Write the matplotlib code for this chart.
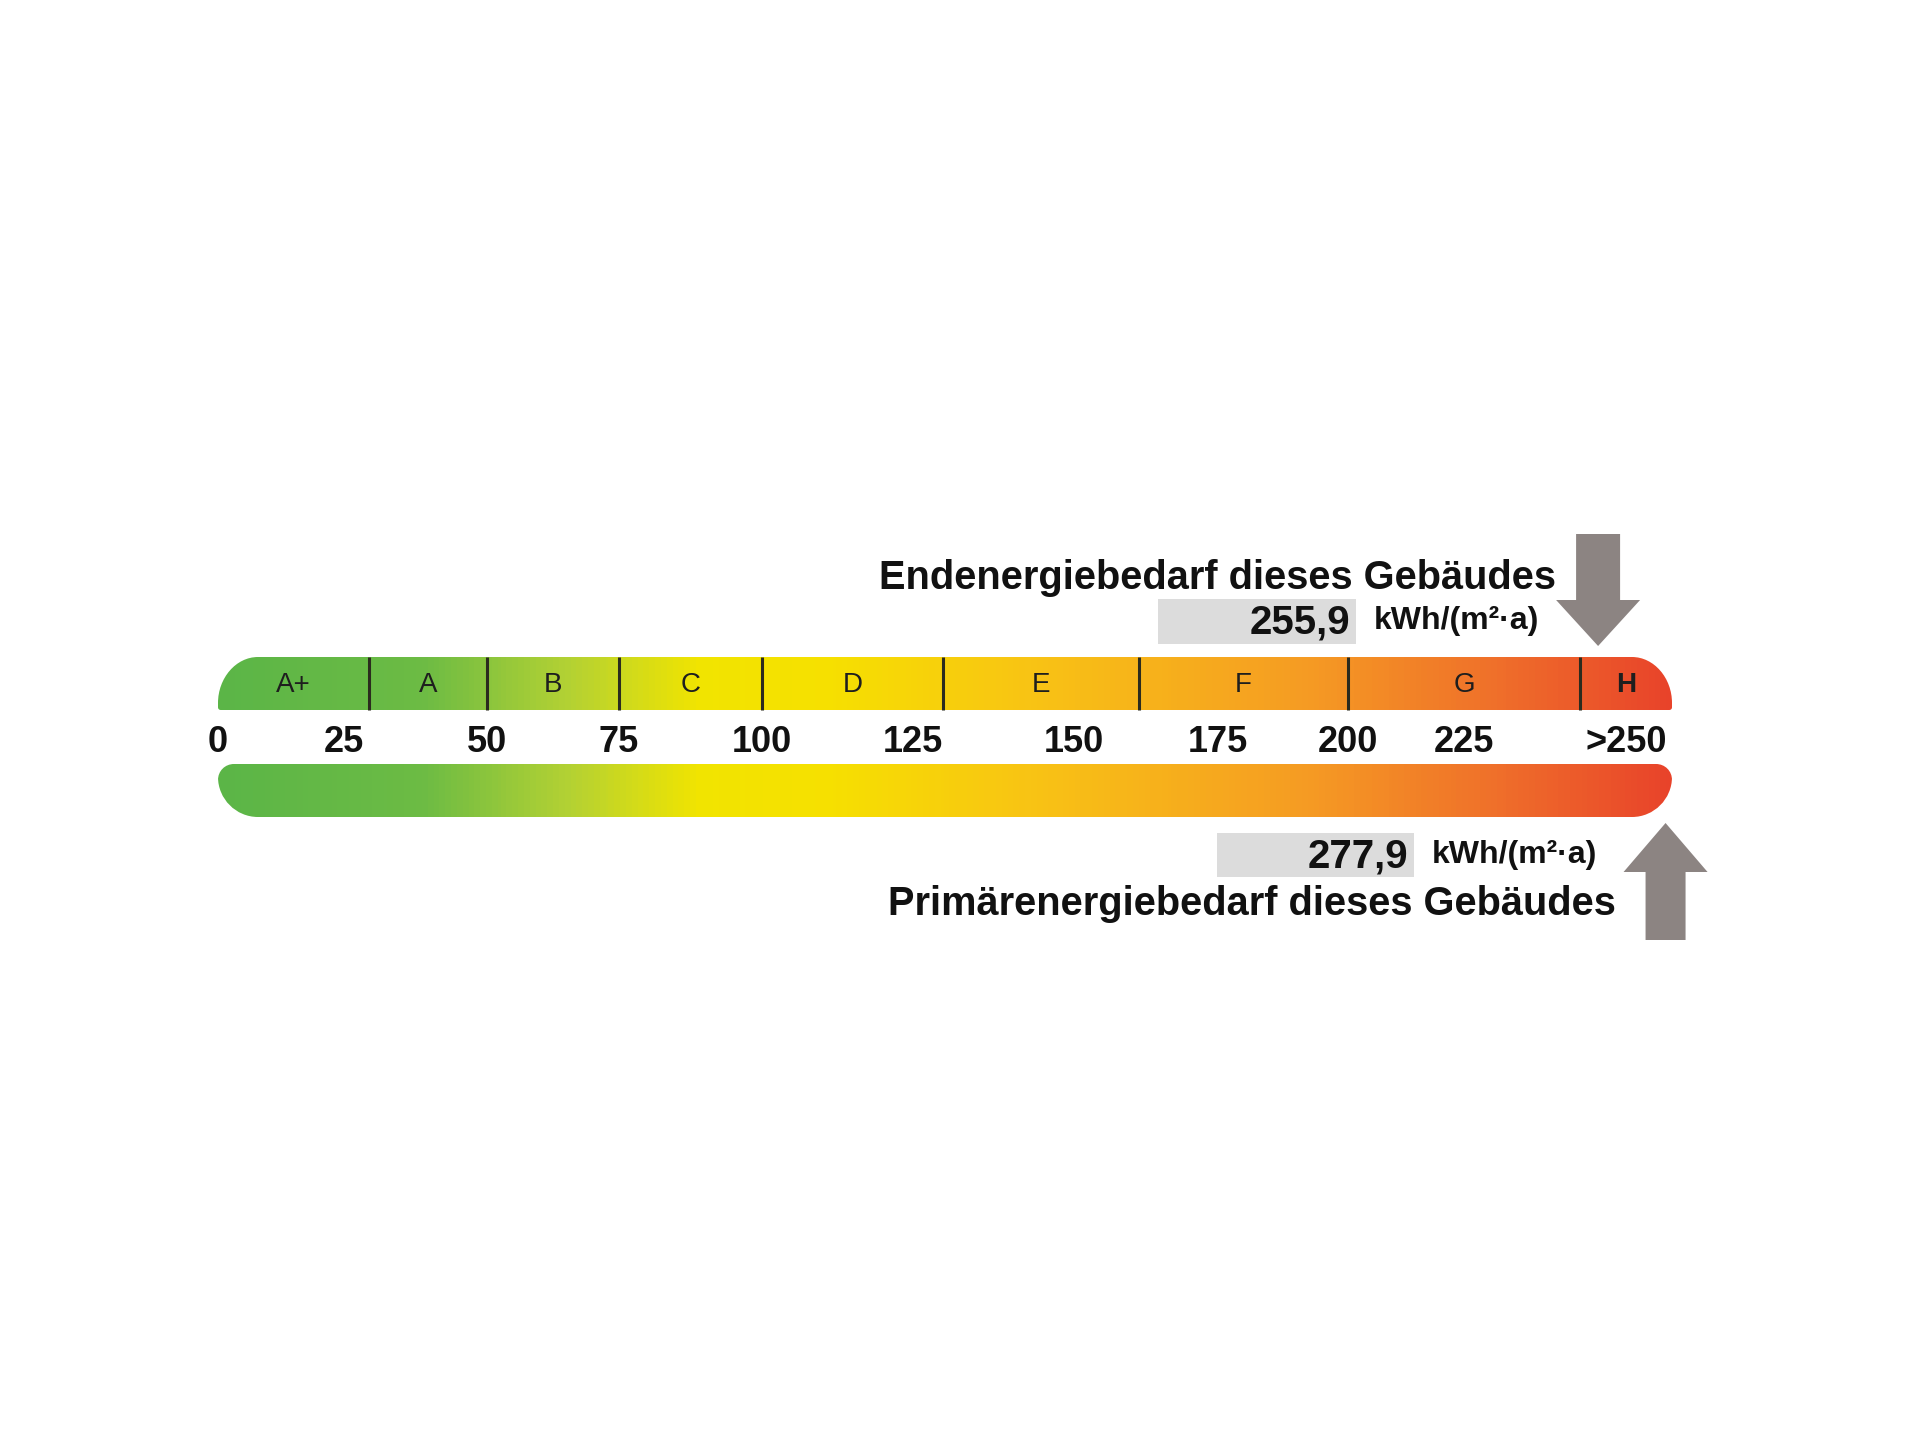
import numpy as np
import matplotlib.pyplot as plt
from matplotlib.path import Path
from matplotlib.patches import PathPatch, Rectangle, Polygon
from matplotlib.colors import LinearSegmentedColormap

plt.rcParams['font.family'] = ['Liberation Sans', 'DejaVu Sans']

# Energieeffizienzklassen, Grenzen in kWh/(m²·a)
klassen = ['A+', 'A', 'B', 'C', 'D', 'E', 'F', 'G', 'H']
grenzen = [0, 30, 50, 75, 100, 130, 160, 200, 250, 280]
skala_werte = [0, 25, 50, 75, 100, 125, 150, 175, 200, 225, 265]
skala_labels = ['0', '25', '50', '75', '100', '125', '150', '175', '200', '225', '>250']
endenergie = 255.9
primaerenergie = 277.9
einheit = 'kWh/(m²·a)'

# Skala ist nicht linear: Pixelposition je Klassengrenze (Layout)
px_anker = [0, 218, 369, 487, 619, 762, 943, 1139, 1348, 1580, 1672, 1920]
w_anker = [-43.3] + grenzen + [360.8]


def fwd(v):
    return np.interp(v, w_anker, px_anker)


def inv(p):
    return np.interp(p, px_anker, w_anker)


fig = plt.figure(figsize=(19.2, 14.4), dpi=100)
ax = fig.add_axes([0, 0, 1, 1])
ax.set_xscale('function', functions=(fwd, inv))
ax.set_xlim(w_anker[0], w_anker[-1])
ax.set_ylim(1440, 0)
ax.axis('off')

farben = LinearSegmentedColormap.from_list('energie', [
    (0.00, '#5bb547'), (0.14, '#6cbb44'), (0.24, '#b3d133'), (0.33, '#f1e400'),
    (0.42, '#f6e000'), (0.56, '#f8c314'), (0.75, '#f59b23'), (0.88, '#ef6f2a'),
    (1.00, '#e8432a')])


def balken(y0, y1, rxo, ryo, rxu, ryu):
    # Balken mit unterschiedlich runden Ecken oben / unten (x in Pixeln)
    x0, x1 = fwd(grenzen[0]), fwd(grenzen[-1])
    k = 0.5523
    verts = [(x0 + rxo, y0), (x1 - rxo, y0),
             (x1 - rxo + k * rxo, y0), (x1, y0 + ryo - k * ryo), (x1, y0 + ryo),
             (x1, y1 - ryu),
             (x1, y1 - ryu + k * ryu), (x1 - rxu + k * rxu, y1), (x1 - rxu, y1),
             (x0 + rxu, y1),
             (x0 + rxu - k * rxu, y1), (x0, y1 - ryu + k * ryu), (x0, y1 - ryu),
             (x0, y0 + ryo),
             (x0, y0 + ryo - k * ryo), (x0 + rxo - k * rxo, y0), (x0 + rxo, y0),
             (x0 + rxo, y0)]
    codes = [Path.MOVETO, Path.LINETO,
             Path.CURVE4, Path.CURVE4, Path.CURVE4,
             Path.LINETO,
             Path.CURVE4, Path.CURVE4, Path.CURVE4,
             Path.LINETO,
             Path.CURVE4, Path.CURVE4, Path.CURVE4,
             Path.LINETO,
             Path.CURVE4, Path.CURVE4, Path.CURVE4,
             Path.CLOSEPOLY]
    verts = [(inv(x), y) for x, y in verts]
    form = PathPatch(Path(verts, codes), facecolor='none', edgecolor='none')
    ax.add_patch(form)

    xs_px = np.linspace(x0, x1, 500)
    c = ((xs_px[:-1] + xs_px[1:]) / 2 - x0) / (x1 - x0)
    mesh = ax.pcolormesh(inv(xs_px), [y0, y1], c[np.newaxis, :], cmap=farben,
                         vmin=0, vmax=1, shading='flat')
    mesh.set_clip_path(form)


# oberer Balken mit Klassen
balken(657, 710, 40, 46, 3, 3)
ax.vlines(grenzen[1:-1], 657, 710, color='#2b2b1e', lw=2.2)
for i, k in enumerate(klassen):
    ax.text((grenzen[i] + grenzen[i + 1]) / 2, 685, k, ha='center', va='center',
            fontsize=20, color='#1e1e1e', fontweight='bold' if k == 'H' else 'normal')

# Skala
for w, t in zip(skala_werte, skala_labels):
    ax.text(w, 742, t, ha='center', va='center', fontsize=26, fontweight='bold', color='#111111')

# unterer Balken
balken(764, 817, 16, 16, 40, 40)


def pfeil(wert, y_schaft, y_kopf, y_spitze, b_schaft, b_kopf):
    cx = fwd(wert)
    xs = [cx - b_schaft, cx + b_schaft, cx + b_schaft, cx + b_kopf, cx,
          cx - b_kopf, cx - b_schaft]
    ys = [y_schaft, y_schaft, y_kopf, y_kopf, y_spitze, y_kopf, y_kopf]
    ax.add_patch(Polygon(list(zip(inv(np.array(xs)), ys)), closed=True,
                         facecolor='#8c8482', edgecolor='none'))


def wert_text(x_box, y_box, wert):
    ax.add_patch(Rectangle((inv(x_box[0]), y_box[0]), inv(x_box[1]) - inv(x_box[0]),
                           y_box[1] - y_box[0], facecolor='#dcdcdc', edgecolor='none'))
    ym = (y_box[0] + y_box[1]) / 2
    ax.text(inv(x_box[1] - 6), ym + 1, f'{wert:.1f}'.replace('.', ','), ha='right',
            va='center', fontsize=29, fontweight='bold', color='#111111')
    ax.text(inv(x_box[1] + 18), ym, einheit, ha='left', va='center', fontsize=23,
            fontweight='bold', color='#111111')


# Endenergie (oben)
ax.text(inv(1556), 578, 'Endenergiebedarf dieses Gebäudes', ha='right', va='center',
        fontsize=28.6, fontweight='bold', color='#111111')
wert_text((1158, 1356), (599, 644), endenergie)
pfeil(endenergie, 534, 600, 646, 22, 42)

# Primärenergie (unten)
wert_text((1217, 1414), (833, 877), primaerenergie)
ax.text(inv(1616), 904, 'Primärenergiebedarf dieses Gebäudes', ha='right', va='center',
        fontsize=28.6, fontweight='bold', color='#111111')
pfeil(primaerenergie, 940, 872, 823, 20, 42)

fig.savefig('out.png', dpi=100, facecolor='white')
